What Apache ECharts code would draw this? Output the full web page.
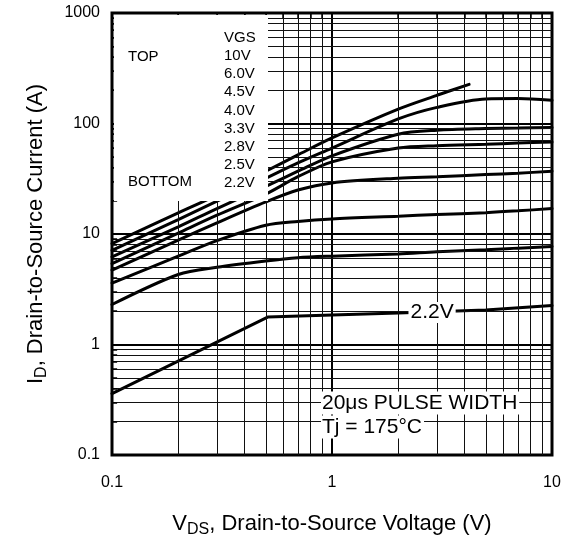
<!DOCTYPE html>
<html>
<head>
<meta charset="utf-8">
<script src="https://cdn.jsdelivr.net/npm/echarts@6/dist/echarts.min.js"></script>
<style>
  html, body { margin: 0; padding: 0; background: #fff; }
  #chart { width: 572px; height: 543px; }
</style>
</head>
<body>
<div id="chart"></div>
<script>
// VGS curves, drain current (A) vs drain-source voltage (V)
const vgsNames = ['10V', '6.0V', '4.5V', '4.0V', '3.3V', '2.8V', '2.5V', '2.2V']
const vdsCommon = [0.1, 0.2, 0.3, 0.5, 0.7, 1, 2, 3, 5, 7, 10]
const vds10V = [0.1, 0.2, 0.3, 0.5, 0.7, 1, 2, 3, 4.2]
const id10V = [8.2, 15.5, 22.5, 37, 52, 74, 135, 180, 226]
const id6V = [7.1, 13.5, 19.8, 32, 44, 60, 110, 140, 167, 168, 162]
const id45V = [6.2, 11.6, 17, 27, 37, 51, 80, 87, 90, 91, 92]
const id40V = [5.4, 10.2, 14.8, 23, 33, 45, 60, 63, 65, 66.5, 68]
const id33V = [4.7, 8.8, 12.6, 19.5, 25, 29, 32, 33, 34.5, 35.5, 37]
const id28V = [3.6, 6.3, 8.7, 12, 13, 13.7, 14.5, 15, 15.6, 16.2, 17]
const id25V = [2.3, 4.3, 5.0, 5.7, 6.1, 6.3, 6.6, 6.9, 7.2, 7.45, 7.7]
const vds22V = [0.1, 0.51, 1, 2, 5, 10]
const id22V = [0.36, 1.77, 1.85, 1.93, 2.05, 2.25]

const xTicks = [0.1, 1, 10]
const yTicks = [0.1, 1, 10, 100, 1000]

const FONT = '"Liberation Sans", Arial, sans-serif'

// minor grid values (2..9 of each decade)
function minors(lo, hi) {
  const out = []
  for (let d = lo; d < hi; d *= 10) {
    for (let k = 2; k <= 9; k++) out.push(+(k * d).toPrecision(3))
  }
  return out
}
const xMinor = minors(0.1, 10)
const yMinor = minors(0.1, 1000)

const curves = [
  { name: vgsNames[0], x: vds10V, y: id10V },
  { name: vgsNames[1], x: vdsCommon, y: id6V },
  { name: vgsNames[2], x: vdsCommon, y: id45V },
  { name: vgsNames[3], x: vdsCommon, y: id40V },
  { name: vgsNames[4], x: vdsCommon, y: id33V },
  { name: vgsNames[5], x: vdsCommon, y: id28V },
  { name: vgsNames[6], x: vdsCommon, y: id25V },
  { name: vgsNames[7], x: vds22V, y: id22V, sharp: true }
]

const chart = echarts.init(document.getElementById('chart'), null, { renderer: 'canvas' })

const series = curves.map(c => {
  const s = {
    name: c.name,
    type: 'line',
    data: c.x.map((v, i) => [v, c.y[i]]),
    smooth: c.sharp ? false : 0.3,
    symbol: 'none',
    lineStyle: { color: '#000', width: 3, cap: 'round' },
    z: 3,
    silent: true,
    animation: false
  }
  if (c.name === '2.2V') {
    s.markPoint = {
      symbol: 'rect',
      symbolSize: 1,
      itemStyle: { color: 'rgba(0,0,0,0)' },
      data: [{ coord: [2.85, 1.95] }],
      label: {
        show: true,
        position: 'inside',
        formatter: '2.2V',
        color: '#000',
        fontFamily: FONT,
        fontSize: 21,
        backgroundColor: '#fff',
        padding: [0, 2]
      }
    }
  }
  return s
})

// minor gridlines
series.push({
  type: 'line',
  data: [],
  z: 1,
  silent: true,
  animation: false,
  markLine: {
    silent: true,
    animation: false,
    symbol: ['none', 'none'],
    label: { show: false },
    lineStyle: { color: '#111', width: 1, type: 'solid' },
    data: xMinor.map(v => ({ xAxis: v })).concat(yMinor.map(v => ({ yAxis: v })))
  }
})

// inner ticks on left and top borders (visible inside the legend box)
series.push({
  type: 'line',
  data: [],
  z: 120,
  silent: true,
  animation: false,
  markLine: {
    silent: true,
    animation: false,
    symbol: ['none', 'none'],
    label: { show: false },
    lineStyle: { color: '#000', width: 1.5, type: 'solid' },
    data: yMinor.map(v => [{ coord: [0.1, v] }, { coord: [0.1055, v] }])
      .concat(xMinor.map(v => [{ coord: [v, 1000] }, { coord: [v, 900] }]))
  }
})

const legendTexts = ['VGS'].concat(vgsNames)
const graphic = [
  { type: 'rect', shape: { x: 114, y: 15, width: 154, height: 186 }, style: { fill: '#fff' }, z: 100 },
  { type: 'text', x: 128, y: 57, z: 101, style: { text: 'TOP', fontSize: 15, fontFamily: FONT, fill: '#000', verticalAlign: 'middle' } },
  { type: 'text', x: 128, y: 182, z: 101, style: { text: 'BOTTOM', fontSize: 15, fontFamily: FONT, fill: '#000', verticalAlign: 'middle' } },
  { type: 'text', x: 321, y: 403, z: 101, style: { text: '20μs PULSE WIDTH', fontSize: 21, fontFamily: FONT, fill: '#000', verticalAlign: 'middle', backgroundColor: '#fff', padding: [1, 2, 1, 1] } },
  { type: 'text', x: 321, y: 427, z: 101, style: { text: 'Tj = 175°C', fontSize: 21, fontFamily: FONT, fill: '#000', verticalAlign: 'middle', backgroundColor: '#fff', padding: [1, 2, 1, 1] } }
]
legendTexts.forEach((t, i) => {
  graphic.push({
    type: 'text', x: 224, y: 38 + i * 18.1, z: 101,
    style: { text: t, fontSize: 15, fontFamily: FONT, fill: '#000', verticalAlign: 'middle' }
  })
})

const nameRich = {
  v: { fontSize: 22, fontFamily: FONT, color: '#000', lineHeight: 29 },
  s: { fontSize: 16, fontFamily: FONT, color: '#000', lineHeight: 16, verticalAlign: 'bottom' }
}

chart.setOption({
  backgroundColor: '#fff',
  animation: false,
  grid: {
    left: 112, right: 20, top: 13, bottom: 88,
    show: true, borderColor: '#000', borderWidth: 3, backgroundColor: 'transparent'
  },
  xAxis: {
    type: 'log',
    logBase: 10,
    min: xTicks[0],
    max: xTicks[xTicks.length - 1],
    name: '{v|V}{s|DS}{v|, Drain-to-Source Voltage (V)}',
    nameLocation: 'middle',
    nameGap: 54,
    nameTextStyle: { rich: nameRich },
    axisLine: { show: false },
    axisTick: { show: false },
    axisLabel: { fontSize: 16, fontFamily: FONT, color: '#000', margin: 20, formatter: v => String(v) },
    splitLine: { show: true, lineStyle: { color: '#000', width: 2 } },
    minorSplitLine: { show: false }
  },
  yAxis: {
    type: 'log',
    logBase: 10,
    min: yTicks[0],
    max: yTicks[yTicks.length - 1],
    name: '{v|I}{s|D}{v|, Drain-to-Source Current (A)}',
    nameLocation: 'middle',
    nameGap: 62,
    nameTextStyle: { rich: nameRich },
    axisLine: { show: false },
    axisTick: { show: true, inside: true, length: 7, lineStyle: { color: '#000', width: 1.5 } },
    axisLabel: { fontSize: 16, fontFamily: FONT, color: '#000', margin: 12, formatter: v => String(v) },
    splitLine: { show: true, lineStyle: { color: '#000', width: 2 } }
  },
  graphic: graphic,
  series: series
})
</script>
</body>
</html>
